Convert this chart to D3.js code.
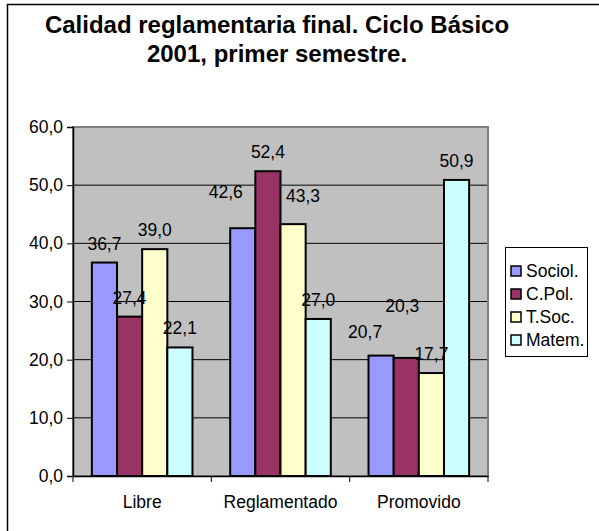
<!DOCTYPE html>
<html>
<head>
<meta charset="utf-8">
<script src="https://cdn.jsdelivr.net/npm/d3@7"></script>
<style>
  body { margin: 0; background: #fff; }
  text { font-family: "Liberation Sans", Arial, sans-serif; fill: #000; }
</style>
</head>
<body>
<div id="chart"></div>
<script>
const categories = ['Libre', 'Reglamentado', 'Promovido'];
const seriesNames = ['Sociol.', 'C.Pol.', 'T.Soc.', 'Matem.'];
const seriesColors = ['#9999FF', '#993366', '#FFFFCC', '#CCFFFF'];
const values = [
  [36.7, 42.6, 20.7],
  [27.4, 52.4, 20.3],
  [39.0, 43.3, 17.7],
  [22.1, 27.0, 50.9]
];
const yTicks = [0, 10, 20, 30, 40, 50, 60];
const titleLines = ['Calidad reglamentaria final. Ciclo Básico', '2001, primer semestre.'];

// hand-moved data labels in the original (pixel nudges, [series][category])
const labelNudge = [
  [[0, 0], [-17, -17], [-16, -5]],
  [[0, 0], [0, 0], [-4, -33]],
  [[0, 0], [10, -9], [0, 0]],
  [[0, 0], [0, 0], [0, 0]]
];

const width = 599;
const height = 531;
const plot = { left: 73, right: 488, top: 127, bottom: 476 };

const fmt = v => d3.format('.1f')(v).replace('.', ',');

const svg = d3.select('#chart')
  .append('svg')
  .attr('width', width)
  .attr('height', height);

// chart border (cropped on right and bottom)
svg.append('rect')
  .attr('x', 7.5).attr('y', 4.5)
  .attr('width', 620).attr('height', 560)
  .attr('fill', '#fff')
  .attr('stroke', '#000')
  .attr('stroke-width', 1.5);

svg.append('g')
  .selectAll('text')
  .data(titleLines)
  .enter()
  .append('text')
  .attr('x', 277)
  .attr('y', (d, i) => 33 + i * 29)
  .attr('text-anchor', 'middle')
  .style('font-size', '24px')
  .style('font-weight', 'bold')
  .text(d => d);

const x0 = d3.scaleBand()
  .domain(categories)
  .range([plot.left, plot.right])
  .paddingInner(0)
  .paddingOuter(0);

// Excel gap width 150%
const x1 = d3.scaleBand()
  .domain(seriesNames)
  .range([0, x0.bandwidth()])
  .paddingInner(0)
  .paddingOuter(0.75);

const y = d3.scaleLinear()
  .domain([0, 60])
  .range([plot.bottom, plot.top]);

// plot area
svg.append('rect')
  .attr('x', plot.left)
  .attr('y', plot.top)
  .attr('width', plot.right - plot.left)
  .attr('height', plot.bottom - plot.top)
  .attr('fill', '#C0C0C0');

svg.append('g')
  .selectAll('line')
  .data(yTicks.slice(1))
  .enter()
  .append('line')
  .attr('x1', plot.left)
  .attr('x2', plot.right)
  .attr('y1', d => y(d))
  .attr('y2', d => y(d))
  .attr('stroke', '#000')
  .attr('stroke-width', 1);

svg.append('rect')
  .attr('x', plot.left)
  .attr('y', plot.top)
  .attr('width', plot.right - plot.left)
  .attr('height', plot.bottom - plot.top)
  .attr('fill', 'none')
  .attr('stroke', '#808080')
  .attr('stroke-width', 2);

// bars
const cells = (s, si) => categories.map((c, ci) => ({ s, si, c, ci, v: values[si][ci] }));

svg.append('g')
  .selectAll('g')
  .data(seriesNames)
  .enter()
  .append('g')
  .attr('fill', (d, i) => seriesColors[i])
  .selectAll('rect')
  .data(cells)
  .enter()
  .append('rect')
  .attr('x', d => x0(d.c) + x1(d.s))
  .attr('y', d => y(d.v))
  .attr('width', x1.bandwidth())
  .attr('height', d => y(0) - y(d.v))
  .attr('stroke', '#000')
  .attr('stroke-width', 2);

// data labels, on top of all bars
svg.append('g')
  .selectAll('g')
  .data(seriesNames)
  .enter()
  .append('g')
  .selectAll('text')
  .data(cells)
  .enter()
  .append('text')
  .attr('x', d => x0(d.c) + x1(d.s) + x1.bandwidth() / 2 + labelNudge[d.si][d.ci][0])
  .attr('y', d => y(d.v) - 13 + labelNudge[d.si][d.ci][1])
  .attr('text-anchor', 'middle')
  .style('font-size', '17.5px')
  .text(d => fmt(d.v));

// y axis
const yAxis = d3.axisLeft(y)
  .tickValues(yTicks)
  .tickSize(6)
  .tickPadding(4)
  .tickFormat(fmt);

const yAxisG = svg.append('g')
  .attr('transform', `translate(${plot.left},0)`)
  .call(yAxis);
yAxisG.select('.domain').attr('stroke', '#000').attr('stroke-width', 1.5);
yAxisG.selectAll('.tick line').attr('stroke', '#000');
yAxisG.selectAll('.tick text')
  .style('font-size', '17.5px')
  .style('font-family', '"Liberation Sans", Arial, sans-serif')
  .attr('fill', '#000');

// x axis
const xAxis = d3.axisBottom(x0)
  .tickSize(0)
  .tickPadding(20);

const xAxisG = svg.append('g')
  .attr('transform', `translate(0,${plot.bottom})`)
  .call(xAxis);
xAxisG.select('.domain').attr('stroke', '#000').attr('stroke-width', 1.5);
xAxisG.selectAll('.tick text')
  .style('font-size', '17.5px')
  .style('font-family', '"Liberation Sans", Arial, sans-serif')
  .attr('fill', '#000');

// category separators on the x axis
xAxisG.selectAll('.sep')
  .data(categories.concat(['end']))
  .enter()
  .append('line')
  .attr('class', 'sep')
  .attr('x1', (d, i) => plot.left + i * x0.bandwidth())
  .attr('x2', (d, i) => plot.left + i * x0.bandwidth())
  .attr('y1', 0)
  .attr('y2', 6)
  .attr('stroke', '#000');

// legend
const legend = svg.append('g')
  .attr('transform', 'translate(505,247)');

legend.append('rect')
  .attr('x', 0.5).attr('y', 0.5)
  .attr('width', 82).attr('height', 109)
  .attr('fill', '#fff')
  .attr('stroke', '#000');

const items = legend.selectAll('.item')
  .data(seriesNames)
  .enter()
  .append('g')
  .attr('class', 'item')
  .attr('transform', (d, i) => `translate(6,${25 + i * 23})`);

items.append('rect')
  .attr('x', 0).attr('y', -6)
  .attr('width', 10).attr('height', 10)
  .attr('fill', (d, i) => seriesColors[i])
  .attr('stroke', '#000')
  .attr('stroke-width', 1.5);

items.append('text')
  .attr('x', 15)
  .attr('y', 5)
  .style('font-size', '17.5px')
  .text(d => d);
</script>
</body>
</html>
